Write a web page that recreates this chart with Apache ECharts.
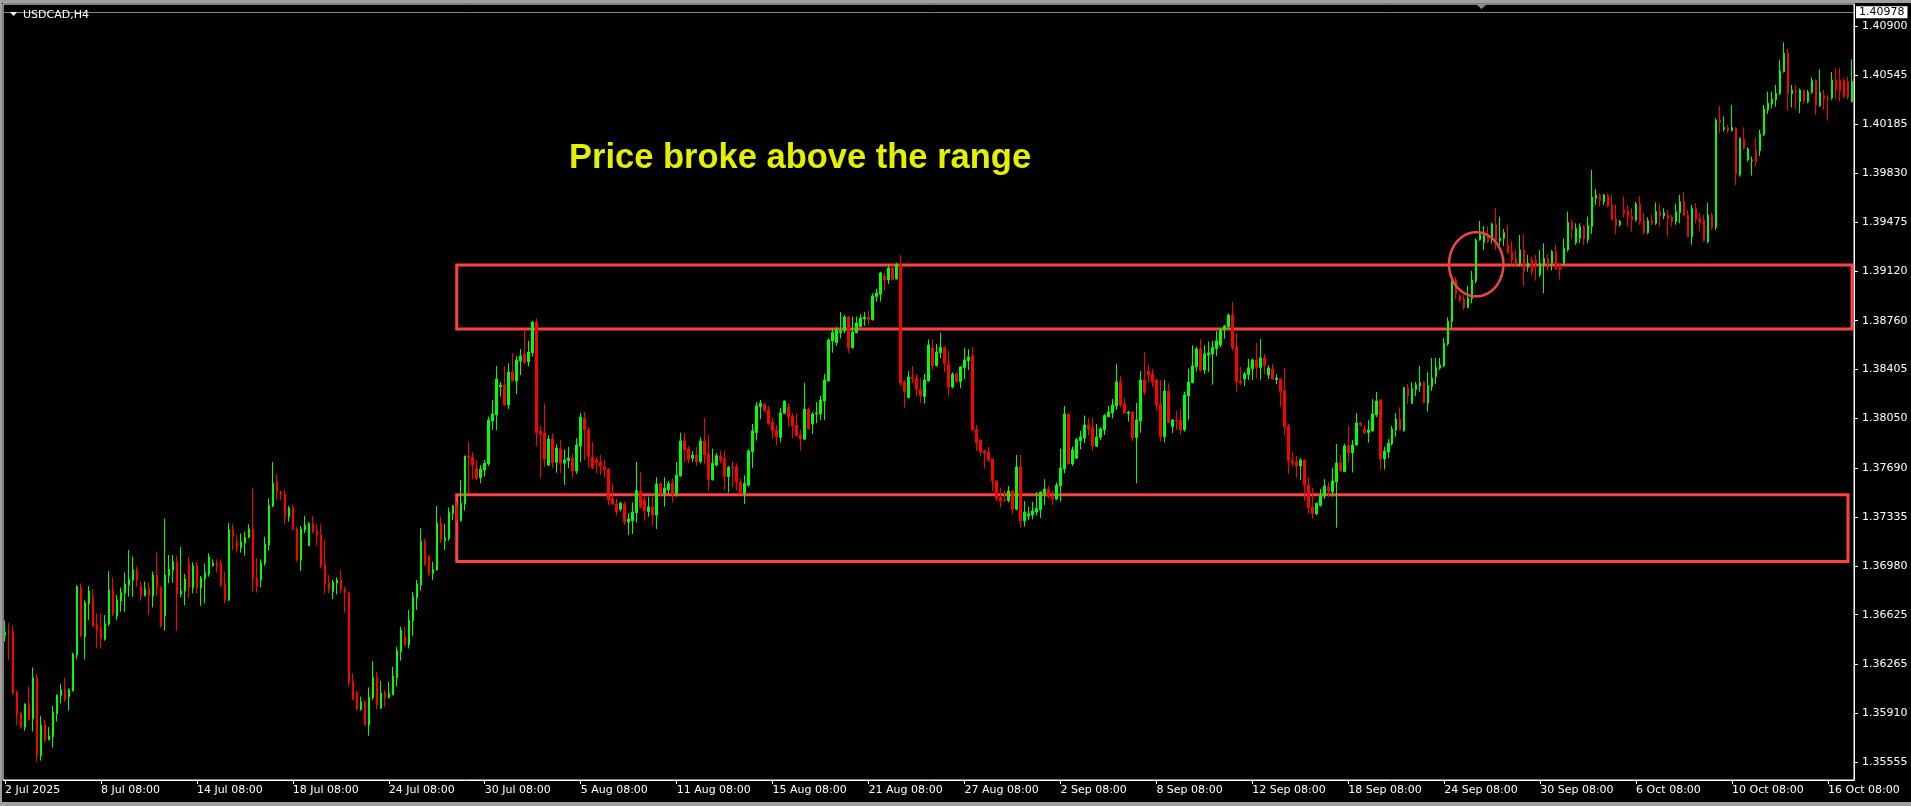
<!DOCTYPE html>
<html><head><meta charset="utf-8">
<script src="https://cdn.jsdelivr.net/npm/echarts@6/dist/echarts.min.js"></script>
<style>html,body{margin:0;padding:0;background:#000;overflow:hidden}#chart{width:1911px;height:806px}</style>
</head><body><div id="chart"></div>
<script>
const symbolLabel = 'USDCAD,H4';
const noteText = 'Price broke above the range';
const tickLabels = ['2 Jul 2025','8 Jul 08:00','14 Jul 08:00','18 Jul 08:00','24 Jul 08:00','30 Jul 08:00','5 Aug 08:00','11 Aug 08:00','15 Aug 08:00','21 Aug 08:00','27 Aug 08:00','2 Sep 08:00','8 Sep 08:00','12 Sep 08:00','18 Sep 08:00','24 Sep 08:00','30 Sep 08:00','6 Oct 08:00','10 Oct 08:00','16 Oct 08:00'];
const barsPerLabel = 24;
const priceTicks = [1.35555,1.35910,1.36265,1.36625,1.36980,1.37335,1.37690,1.38050,1.38405,1.38760,1.39120,1.39475,1.39830,1.40185,1.40545,1.40900];
const priceMin = 1.354243, priceMax = 1.410605;
const bidPrice = 1.40978;
// zones: [fromBar, toBar, topPrice, bottomPrice]
const zones = [[113, 462, 1.39165, 1.38700], [113, 461, 1.37497, 1.37011]];
// breakout ellipse: [bar, price, radiusBars, radiusPrice]
const breakout = [368, 1.39170, 6.8, 0.00233];
// candles: [open, close, low, high]
const candles = [
[1.36473,1.36497,1.36429,1.36582],[1.36502,1.36495,1.36296,1.36567],[1.36502,1.36054,1.36042,1.36543],[1.36064,1.35897,1.35820,1.36074],[1.35909,1.35808,1.35796,1.35921],
[1.35808,1.35975,1.35781,1.35982],[1.35972,1.35866,1.35856,1.36103],[1.35868,1.36168,1.35776,1.36241],[1.36168,1.35607,1.35558,1.36195],[1.35602,1.35825,1.35565,1.35890],
[1.35825,1.35716,1.35696,1.35861],[1.35716,1.35745,1.35714,1.35808],[1.35740,1.35914,1.35659,1.35962],[1.35904,1.36042,1.35848,1.36045],[1.36037,1.36079,1.35982,1.36122],
[1.36079,1.36010,1.35994,1.36166],[1.36030,1.36079,1.35928,1.36091],[1.36071,1.36339,1.36068,1.36349],[1.36332,1.36828,1.36300,1.36840],[1.36823,1.36470,1.36460,1.36852],
[1.36465,1.36712,1.36300,1.36731],[1.36707,1.36797,1.36586,1.36833],[1.36751,1.36543,1.36538,1.36809],[1.36550,1.36514,1.36380,1.36635],[1.36530,1.36453,1.36380,1.36635],
[1.36446,1.36562,1.36436,1.36622],[1.36557,1.36804,1.36543,1.36942],[1.36804,1.36630,1.36615,1.36896],[1.36615,1.36731,1.36586,1.36768],[1.36724,1.36787,1.36647,1.36823],
[1.36780,1.36848,1.36647,1.36932],[1.36840,1.36884,1.36756,1.37095],[1.36877,1.36949,1.36756,1.37046],[1.36949,1.36877,1.36828,1.36974],[1.36833,1.36763,1.36727,1.36865],
[1.36763,1.36811,1.36756,1.36865],[1.36811,1.36763,1.36622,1.36857],[1.36761,1.36913,1.36678,1.36937],[1.36913,1.36823,1.36756,1.37078],[1.36823,1.36545,1.36533,1.36833],
[1.36615,1.36913,1.36509,1.37323],[1.36908,1.36957,1.36852,1.37058],[1.36949,1.37008,1.36857,1.37058],[1.37008,1.36775,1.36509,1.37051],[1.36775,1.36797,1.36751,1.37117],
[1.36797,1.36884,1.36693,1.36920],[1.36998,1.36821,1.36744,1.37046],[1.36821,1.36981,1.36780,1.37005],[1.36981,1.36821,1.36780,1.37010],[1.36821,1.36889,1.36690,1.36906],
[1.36884,1.36930,1.36707,1.36998],[1.36920,1.37046,1.36901,1.37070],[1.36981,1.36998,1.36974,1.37027],[1.36998,1.36981,1.36930,1.37027],[1.36998,1.36840,1.36828,1.37027],
[1.36848,1.36731,1.36707,1.36937],[1.36731,1.37240,1.36724,1.37291],[1.37240,1.37196,1.37095,1.37283],[1.37153,1.37112,1.37075,1.37204],[1.37112,1.37153,1.37075,1.37216],
[1.37143,1.37187,1.37053,1.37228],[1.37187,1.37247,1.37179,1.37281],[1.37247,1.36884,1.36792,1.37543],[1.36889,1.36828,1.36785,1.37034],[1.36877,1.37003,1.36823,1.37027],
[1.36998,1.37138,1.36981,1.37191],[1.37131,1.37418,1.37090,1.37470],[1.37414,1.37579,1.37404,1.37734],[1.37588,1.37516,1.37458,1.37647],[1.37516,1.37501,1.37458,1.37525],
[1.37501,1.37337,1.37283,1.37530],[1.37337,1.37402,1.37300,1.37414],[1.37402,1.37247,1.37240,1.37421],[1.37247,1.37022,1.37010,1.37264],[1.37022,1.37247,1.36942,1.37269],
[1.37240,1.37274,1.37216,1.37342],[1.37126,1.37288,1.37126,1.37300],[1.37288,1.37228,1.37216,1.37342],[1.37233,1.37204,1.37131,1.37283],[1.37204,1.36981,1.36961,1.37281],
[1.36993,1.36852,1.36780,1.37167],[1.36852,1.36811,1.36780,1.36913],[1.36792,1.36862,1.36739,1.36877],[1.36855,1.36877,1.36773,1.36896],[1.36877,1.36809,1.36780,1.36949],
[1.36809,1.36785,1.36639,1.36828],[1.36785,1.36131,1.36107,1.36792],[1.36136,1.36012,1.36005,1.36199],[1.36056,1.35937,1.35928,1.36073],[1.35937,1.35991,1.35928,1.36030],
[1.35991,1.35824,1.35820,1.36005],[1.35824,1.36027,1.35746,1.36097],[1.36022,1.36168,1.36005,1.36288],[1.36168,1.35969,1.35937,1.36211],[1.35945,1.36056,1.35940,1.36143],
[1.36056,1.36022,1.35957,1.36079],[1.36022,1.36054,1.36017,1.36136],[1.36042,1.36180,1.36040,1.36247],[1.36168,1.36363,1.36103,1.36393],[1.36356,1.36514,1.36291,1.36538],
[1.36465,1.36405,1.36393,1.36538],[1.36405,1.36586,1.36380,1.36659],[1.36581,1.36756,1.36470,1.36792],[1.36748,1.36848,1.36659,1.36877],[1.36840,1.37155,1.36799,1.37252],
[1.37155,1.36993,1.36978,1.37177],[1.37051,1.36925,1.36901,1.37058],[1.36925,1.36954,1.36877,1.37010],[1.36949,1.37288,1.36944,1.37414],[1.37289,1.37168,1.37144,1.37337],
[1.37163,1.37182,1.37095,1.37284],[1.37177,1.37369,1.37163,1.37403],[1.37361,1.37415,1.37313,1.37422],[1.37415,1.37320,1.37300,1.37440],[1.37308,1.37434,1.37300,1.37604],
[1.37429,1.37778,1.37381,1.37780],[1.37778,1.37768,1.37507,1.37879],[1.37768,1.37712,1.37608,1.37807],[1.37688,1.37616,1.37604,1.37749],[1.37621,1.37683,1.37579,1.37712],
[1.37676,1.37725,1.37628,1.37749],[1.37722,1.38039,1.37705,1.38063],[1.38032,1.38083,1.37967,1.38185],[1.38076,1.38337,1.37967,1.38431],[1.38281,1.38293,1.38209,1.38315],
[1.38293,1.38148,1.38141,1.38431],[1.38148,1.38388,1.38119,1.38451],[1.38388,1.38323,1.38318,1.38524],[1.38323,1.38475,1.38228,1.38504],[1.38468,1.38504,1.38366,1.38555],
[1.38519,1.38456,1.38446,1.38693],[1.38461,1.38533,1.38427,1.38613],[1.38528,1.38751,1.38499,1.38755],[1.38751,1.37947,1.37846,1.38778],[1.37959,1.37938,1.37620,1.37996],
[1.37945,1.37756,1.37700,1.38160],[1.37712,1.37901,1.37705,1.37928],[1.37901,1.37729,1.37688,1.37945],[1.37732,1.37836,1.37657,1.37863],[1.37829,1.37725,1.37652,1.37894],
[1.37725,1.37749,1.37567,1.37826],[1.37744,1.37763,1.37688,1.37843],[1.37763,1.37669,1.37620,1.37797],[1.37669,1.37858,1.37647,1.37906],[1.37851,1.38061,1.37732,1.38090],
[1.38054,1.37967,1.37749,1.38097],[1.37967,1.37773,1.37695,1.37988],[1.37768,1.37693,1.37681,1.37879],[1.37749,1.37729,1.37652,1.37773],[1.37734,1.37700,1.37640,1.37785],
[1.37698,1.37676,1.37620,1.37749],[1.37683,1.37458,1.37422,1.37688],[1.37470,1.37429,1.37422,1.37579],[1.37429,1.37374,1.37345,1.37470],[1.37390,1.37434,1.37374,1.37446],
[1.37429,1.37301,1.37277,1.37446],[1.37299,1.37320,1.37204,1.37361],[1.37308,1.37369,1.37211,1.37441],[1.37366,1.37526,1.37294,1.37734],[1.37524,1.37405,1.37398,1.37662],
[1.37458,1.37378,1.37308,1.37482],[1.37374,1.37408,1.37337,1.37482],[1.37408,1.37349,1.37277,1.37482],[1.37349,1.37574,1.37248,1.37623],[1.37574,1.37507,1.37482,1.37587],
[1.37507,1.37545,1.37410,1.37623],[1.37531,1.37577,1.37500,1.37596],[1.37584,1.37507,1.37439,1.37616],[1.37507,1.37640,1.37482,1.37734],[1.37633,1.37887,1.37628,1.37947],
[1.37887,1.37821,1.37729,1.37947],[1.37829,1.37749,1.37725,1.37850],[1.37761,1.37785,1.37734,1.37812],[1.37785,1.37737,1.37705,1.37846],[1.37737,1.37887,1.37725,1.37913],
[1.37887,1.37785,1.37717,1.38054],[1.37792,1.37608,1.37526,1.37930],[1.37604,1.37725,1.37600,1.37831],[1.37712,1.37780,1.37700,1.37797],[1.37775,1.37749,1.37725,1.37817],
[1.37756,1.37628,1.37531,1.37814],[1.37628,1.37696,1.37512,1.37705],[1.37700,1.37696,1.37550,1.37742],[1.37698,1.37591,1.37526,1.37725],[1.37587,1.37507,1.37502,1.37616],
[1.37507,1.37579,1.37429,1.37637],[1.37565,1.37814,1.37555,1.37826],[1.37809,1.37960,1.37693,1.38010],[1.37947,1.38141,1.37889,1.38168],[1.38136,1.38160,1.38044,1.38185],
[1.38156,1.38105,1.38100,1.38160],[1.38112,1.38015,1.38003,1.38141],[1.38020,1.37962,1.37906,1.38059],[1.37967,1.37918,1.37858,1.38003],[1.37913,1.38090,1.37875,1.38126],
[1.38088,1.38177,1.38085,1.38180],[1.38134,1.38063,1.37991,1.38160],[1.38068,1.37996,1.37906,1.38088],[1.38003,1.37923,1.37918,1.38088],[1.37930,1.37901,1.37817,1.37967],
[1.37899,1.38119,1.37894,1.38310],[1.38119,1.37974,1.37970,1.38131],[1.38010,1.38083,1.37938,1.38095],[1.38083,1.38090,1.38015,1.38168],[1.38083,1.38185,1.38039,1.38216],
[1.38177,1.38330,1.38039,1.38373],[1.38323,1.38620,1.38318,1.38632],[1.38613,1.38676,1.38528,1.38698],[1.38601,1.38693,1.38577,1.38717],[1.38674,1.38686,1.38632,1.38824],
[1.38686,1.38787,1.38669,1.38802],[1.38787,1.38565,1.38524,1.38792],[1.38565,1.38678,1.38557,1.38790],[1.38674,1.38744,1.38669,1.38790],[1.38717,1.38780,1.38712,1.38807],
[1.38773,1.38787,1.38722,1.38824],[1.38787,1.38768,1.38729,1.38838],[1.38768,1.38940,1.38761,1.38959],[1.38935,1.38962,1.38899,1.38993],[1.38952,1.39107,1.38899,1.39117],
[1.39085,1.39056,1.38979,1.39105],[1.39056,1.39143,1.39027,1.39165],[1.39143,1.39061,1.39056,1.39165],[1.39063,1.39167,1.39061,1.39182],[1.39167,1.38310,1.38286,1.39238],
[1.38315,1.38245,1.38129,1.38330],[1.38201,1.38352,1.38199,1.38395],[1.38352,1.38340,1.38306,1.38431],[1.38344,1.38262,1.38209,1.38373],[1.38262,1.38216,1.38165,1.38342],
[1.38209,1.38330,1.38158,1.38373],[1.38323,1.38584,1.38318,1.38625],[1.38562,1.38434,1.38402,1.38625],[1.38434,1.38533,1.38427,1.38591],[1.38528,1.38567,1.38487,1.38674],
[1.38567,1.38451,1.38388,1.38572],[1.38446,1.38279,1.38209,1.38540],[1.38279,1.38373,1.38269,1.38386],[1.38373,1.38318,1.38310,1.38386],[1.38318,1.38424,1.38269,1.38431],
[1.38419,1.38475,1.38335,1.38560],[1.38470,1.38497,1.38402,1.38553],[1.38504,1.37967,1.37962,1.38569],[1.37972,1.37875,1.37814,1.38003],[1.37894,1.37809,1.37780,1.37894],
[1.37814,1.37802,1.37686,1.37826],[1.37807,1.37749,1.37734,1.37843],[1.37756,1.37596,1.37519,1.37756],[1.37596,1.37470,1.37453,1.37604],[1.37475,1.37453,1.37403,1.37548],
[1.37458,1.37453,1.37446,1.37526],[1.37453,1.37524,1.37441,1.37560],[1.37524,1.37393,1.37357,1.37531],[1.37390,1.37698,1.37386,1.37785],[1.37698,1.37306,1.37257,1.37785],
[1.37306,1.37371,1.37265,1.37451],[1.37342,1.37357,1.37313,1.37410],[1.37349,1.37378,1.37318,1.37444],[1.37371,1.37395,1.37345,1.37516],[1.37386,1.37514,1.37328,1.37521],
[1.37507,1.37538,1.37422,1.37611],[1.37538,1.37482,1.37470,1.37562],[1.37482,1.37470,1.37422,1.37526],[1.37463,1.37567,1.37460,1.37584],[1.37562,1.37691,1.37446,1.37829],
[1.37683,1.38083,1.37652,1.38141],[1.38083,1.37720,1.37717,1.38090],[1.37720,1.37821,1.37705,1.37846],[1.37761,1.37896,1.37756,1.37909],[1.37889,1.37916,1.37826,1.37960],
[1.37909,1.38003,1.37872,1.38071],[1.38003,1.37976,1.37926,1.38054],[1.37981,1.37851,1.37817,1.38054],[1.37848,1.37916,1.37843,1.38010],[1.37913,1.37974,1.37894,1.37986],
[1.37967,1.38071,1.37930,1.38083],[1.38063,1.38097,1.38060,1.38141],[1.38090,1.38148,1.38051,1.38192],[1.38141,1.38315,1.38112,1.38446],[1.38315,1.38148,1.38131,1.38359],
[1.38156,1.38088,1.38083,1.38199],[1.38088,1.38097,1.38027,1.38105],[1.38097,1.37911,1.37887,1.38099],[1.37911,1.38039,1.37579,1.38163],[1.38032,1.38330,1.37947,1.38395],
[1.38330,1.38238,1.38221,1.38533],[1.38395,1.38366,1.38310,1.38439],[1.38373,1.38315,1.38277,1.38410],[1.38330,1.38148,1.38107,1.38335],[1.38156,1.37918,1.37882,1.38330],
[1.37918,1.38250,1.37875,1.38330],[1.38250,1.38020,1.38015,1.38306],[1.37991,1.38039,1.37943,1.38044],[1.38039,1.38032,1.37967,1.38105],[1.38039,1.37967,1.37930,1.38119],
[1.37967,1.38221,1.37955,1.38245],[1.38216,1.38315,1.38039,1.38412],[1.38310,1.38431,1.38306,1.38582],[1.38427,1.38555,1.38390,1.38572],[1.38555,1.38402,1.38390,1.38628],
[1.38402,1.38519,1.38373,1.38582],[1.38511,1.38526,1.38388,1.38608],[1.38519,1.38565,1.38296,1.38613],[1.38557,1.38613,1.38504,1.38686],[1.38584,1.38693,1.38567,1.38708],
[1.38693,1.38722,1.38630,1.38729],[1.38717,1.38802,1.38700,1.38812],[1.38802,1.38565,1.38543,1.38896],[1.38569,1.38318,1.38245,1.38671],[1.38323,1.38310,1.38293,1.38424],
[1.38337,1.38373,1.38286,1.38388],[1.38369,1.38419,1.38330,1.38482],[1.38412,1.38475,1.38330,1.38485],[1.38475,1.38422,1.38340,1.38599],[1.38419,1.38490,1.38330,1.38628],
[1.38490,1.38434,1.38373,1.38519],[1.38366,1.38417,1.38337,1.38436],[1.38410,1.38337,1.38330,1.38448],[1.38332,1.38344,1.38298,1.38371],[1.38337,1.38245,1.38136,1.38342],
[1.38250,1.37991,1.37926,1.38419],[1.37996,1.37744,1.37647,1.38010],[1.37742,1.37729,1.37700,1.37807],[1.37734,1.37705,1.37618,1.37778],[1.37705,1.37749,1.37604,1.37763],
[1.37749,1.37567,1.37451,1.37751],[1.37567,1.37403,1.37361,1.37625],[1.37408,1.37359,1.37323,1.37545],[1.37359,1.37432,1.37349,1.37441],[1.37420,1.37487,1.37410,1.37538],
[1.37487,1.37560,1.37466,1.37611],[1.37553,1.37524,1.37482,1.37589],[1.37519,1.37596,1.37482,1.37691],[1.37589,1.37727,1.37257,1.37865],[1.37727,1.37669,1.37662,1.37785],
[1.37664,1.37851,1.37662,1.37865],[1.37851,1.37800,1.37729,1.37996],[1.37800,1.37858,1.37657,1.37892],[1.37858,1.38018,1.37853,1.38090],[1.38018,1.38003,1.37991,1.38025],
[1.37974,1.37947,1.37938,1.37996],[1.37947,1.37967,1.37875,1.38039],[1.37960,1.38083,1.37955,1.38192],[1.38076,1.38177,1.38059,1.38243],[1.38185,1.37756,1.37679,1.38192],
[1.37756,1.37814,1.37679,1.37846],[1.37807,1.37872,1.37763,1.37901],[1.37865,1.37974,1.37853,1.37996],[1.37967,1.38047,1.37918,1.38090],[1.38047,1.37967,1.37962,1.38131],
[1.37960,1.38274,1.37955,1.38281],[1.38274,1.38216,1.38156,1.38301],[1.38160,1.38269,1.38156,1.38313],[1.38262,1.38294,1.38214,1.38315],[1.38286,1.38311,1.38245,1.38432],
[1.38313,1.38165,1.38160,1.38320],[1.38160,1.38286,1.38100,1.38386],[1.38281,1.38344,1.38250,1.38490],[1.38354,1.38422,1.38301,1.38490],[1.38415,1.38439,1.38403,1.38490],
[1.38432,1.38596,1.38422,1.38633],[1.38591,1.38758,1.38577,1.38785],[1.38754,1.39056,1.38705,1.39080],[1.39056,1.38955,1.38916,1.39080],[1.38940,1.38911,1.38892,1.38955],
[1.38918,1.38855,1.38838,1.38947],[1.38855,1.38925,1.38850,1.39013],[1.38921,1.39056,1.38887,1.39122],[1.39049,1.39347,1.39032,1.39359],[1.39347,1.39385,1.39342,1.39485],
[1.39327,1.39378,1.39274,1.39448],[1.39376,1.39335,1.39323,1.39444],[1.39359,1.39463,1.39323,1.39473],[1.39456,1.39347,1.39274,1.39577],[1.39342,1.39359,1.39311,1.39516],
[1.39359,1.39400,1.39303,1.39427],[1.39310,1.39255,1.39245,1.39456],[1.39262,1.39201,1.39165,1.39340],[1.39213,1.39177,1.39153,1.39274],[1.39177,1.39274,1.39153,1.39383],
[1.39274,1.39117,1.39013,1.39383],[1.39148,1.39177,1.39117,1.39238],[1.39201,1.39117,1.39093,1.39225],[1.39201,1.39182,1.39051,1.39238],[1.39093,1.39177,1.39076,1.39274],
[1.39165,1.39213,1.38959,1.39322],[1.39213,1.39177,1.39124,1.39245],[1.39177,1.39262,1.39124,1.39274],[1.39262,1.39134,1.39129,1.39315],[1.39165,1.39129,1.39061,1.39177],
[1.39177,1.39286,1.39165,1.39359],[1.39274,1.39473,1.39262,1.39553],[1.39473,1.39424,1.39352,1.39492],[1.39327,1.39432,1.39311,1.39468],[1.39359,1.39444,1.39323,1.39468],
[1.39444,1.39352,1.39311,1.39456],[1.39347,1.39451,1.39323,1.39516],[1.39444,1.39657,1.39390,1.39855],[1.39650,1.39674,1.39601,1.39717],[1.39669,1.39632,1.39589,1.39686],
[1.39625,1.39674,1.39601,1.39681],[1.39669,1.39594,1.39584,1.39681],[1.39601,1.39492,1.39490,1.39674],[1.39497,1.39456,1.39390,1.39601],[1.39456,1.39480,1.39444,1.39492],
[1.39565,1.39541,1.39511,1.39662],[1.39558,1.39511,1.39444,1.39601],[1.39521,1.39492,1.39407,1.39577],[1.39492,1.39608,1.39480,1.39625],[1.39608,1.39480,1.39456,1.39666],
[1.39487,1.39400,1.39390,1.39541],[1.39400,1.39487,1.39390,1.39511],[1.39487,1.39468,1.39456,1.39528],[1.39468,1.39553,1.39456,1.39618],[1.39553,1.39521,1.39444,1.39613],
[1.39521,1.39545,1.39497,1.39577],[1.39528,1.39504,1.39371,1.39565],[1.39511,1.39480,1.39444,1.39528],[1.39480,1.39553,1.39456,1.39608],[1.39545,1.39625,1.39468,1.39674],
[1.39625,1.39528,1.39516,1.39693],[1.39528,1.39371,1.39366,1.39565],[1.39371,1.39577,1.39311,1.39601],[1.39577,1.39497,1.39468,1.39613],[1.39504,1.39473,1.39407,1.39545],
[1.39492,1.39342,1.39335,1.39528],[1.39335,1.39528,1.39323,1.39618],[1.39528,1.39439,1.39419,1.39545],[1.39439,1.40218,1.39419,1.40230],[1.40218,1.40199,1.40122,1.40320],
[1.40151,1.40163,1.40134,1.40243],[1.40163,1.40141,1.40122,1.40182],[1.40141,1.40163,1.40134,1.40327],[1.40158,1.39831,1.39746,1.40165],[1.39819,1.40085,1.39807,1.40092],
[1.40078,1.40013,1.40001,1.40165],[1.39928,1.40008,1.39916,1.40020],[1.39923,1.39928,1.39814,1.39952],[1.39996,1.39916,1.39879,1.40092],[1.39996,1.40117,1.39957,1.40146],
[1.40110,1.40298,1.40102,1.40327],[1.40291,1.40339,1.40262,1.40424],[1.40335,1.40371,1.40303,1.40424],[1.40364,1.40412,1.40315,1.40473],[1.40412,1.40574,1.40400,1.40654],
[1.40569,1.40703,1.40562,1.40782],[1.40703,1.40412,1.40286,1.40734],[1.40407,1.40436,1.40310,1.40473],[1.40431,1.40424,1.40296,1.40473],[1.40352,1.40436,1.40267,1.40448],
[1.40431,1.40352,1.40335,1.40441],[1.40352,1.40419,1.40340,1.40436],[1.40419,1.40504,1.40407,1.40528],[1.40504,1.40327,1.40255,1.40514],[1.40320,1.40419,1.40315,1.40586],
[1.40395,1.40376,1.40291,1.40436],[1.40376,1.40368,1.40214,1.40400],[1.40376,1.40509,1.40364,1.40567],[1.40509,1.40436,1.40368,1.40594],[1.40509,1.40429,1.40352,1.40594],
[1.40509,1.40388,1.40376,1.40521],[1.40497,1.40388,1.40368,1.40533],[1.40352,1.40497,1.40344,1.40659]
];
const categories = candles.map((_, i) => String(i));

const FONT = '"DejaVu Sans", Verdana, sans-serif';
const chart = echarts.init(document.getElementById('chart'), null, {renderer: 'canvas'});
const showEvery = (i) => i % barsPerLabel === 0;

chart.setOption({
  backgroundColor: '#000000',
  animation: false,
  grid: {left: 3, top: 4, right: 57, bottom: 26, show: true, borderColor: '#ffffff', borderWidth: 1, backgroundColor: 'transparent'},
  xAxis: {
    type: 'category', data: categories, boundaryGap: true,
    axisLine: {show: true, lineStyle: {color: '#ffffff', width: 1}},
    axisTick: {show: true, alignWithLabel: true, interval: showEvery, length: 4, lineStyle: {color: '#ffffff'}},
    axisLabel: {interval: showEvery, align: 'left', margin: 5, color: '#ffffff', fontFamily: FONT, fontSize: 11,
      formatter: (v, i) => tickLabels[i / barsPerLabel] || ''},
    splitLine: {show: false}
  },
  yAxis: {
    type: 'value', position: 'right', min: priceMin, max: priceMax, scale: true,
    axisLine: {show: true, lineStyle: {color: '#ffffff', width: 1}},
    axisTick: {show: true, length: 4, customValues: priceTicks, lineStyle: {color: '#ffffff'}},
    axisLabel: {customValues: priceTicks, margin: 8, color: '#ffffff', fontFamily: FONT, fontSize: 11, align: 'left',
      formatter: (v) => v.toFixed(5)},
    splitLine: {show: false}
  },
  series: [
    {
      type: 'candlestick', data: candles, barWidth: 2, z: 3,
      itemStyle: {color: '#00ff00', color0: '#ff0000', borderColor: '#00ff00', borderColor0: '#ff0000', borderColorDoji: '#00ff00', borderWidth: 1},
      markArea: {
        silent: true, z: 1,
        itemStyle: {color: 'rgba(0,0,0,0)', borderColor: '#ff4040', borderWidth: 3},
        data: zones.map(z => [{xAxis: z[0], yAxis: z[2]}, {xAxis: z[1], yAxis: z[3]}])
      },
      markLine: {
        silent: true, symbol: ['none', 'none'], z: 6,
        lineStyle: {color: '#778899', width: 1, type: 'solid'},
        label: {show: true, position: 'end', distance: 2, formatter: () => bidPrice.toFixed(5),
          backgroundColor: '#ffffff', color: '#000000', fontFamily: FONT, fontSize: 11, lineHeight: 12, padding: [0, 3, 0, 3]},
        data: [{yAxis: bidPrice}]
      }
    },
    {
      type: 'custom', data: [breakout], clip: false, z: 5, silent: true,
      renderItem: (params, api) => {
        const bar = api.value(0), price = api.value(1);
        const c = api.coord([bar, price]);
        const barStep = api.coord([bar + 1, price])[0] - c[0];
        const rx = barStep * api.value(2);
        const ry = c[1] - api.coord([bar, price + api.value(3)])[1];
        const pts = [];
        for (let k = 0; k < 120; k++) {
          const a = k / 120 * Math.PI * 2;
          pts.push([c[0] + rx * Math.cos(a), c[1] + ry * Math.sin(a)]);
        }
        return {type: 'polygon', shape: {points: pts}, style: {fill: 'none', stroke: '#ec4646', lineWidth: 2.5}};
      }
    }
  ],
  graphic: [
    {type: 'rect', shape: {x: 0, y: 0, width: 1911, height: 3}, style: {fill: '#a0a0a0'}, z: 100, silent: true},
    {type: 'rect', shape: {x: 0, y: 0, width: 2, height: 806}, style: {fill: '#a0a0a0'}, z: 100, silent: true},
    {type: 'rect', shape: {x: 0, y: 802, width: 1911, height: 4}, style: {fill: '#a0a0a0'}, z: 100, silent: true},
    {type: 'polygon', shape: {points: [[10, 12], [17, 12], [13.5, 16]]}, style: {fill: '#ffffff'}, z: 100, silent: true},
    {type: 'text', x: 23, y: 15, style: {text: symbolLabel, fill: '#ffffff', font: '11px ' + FONT, verticalAlign: 'middle'}, z: 100, silent: true},
    {type: 'polygon', shape: {points: [[1476, 4], [1487, 4], [1481.5, 9]]}, style: {fill: '#8a8a8a'}, z: 100, silent: true},
    {type: 'text', x: 569, y: 158, style: {text: noteText, fill: '#e4f000', font: 'bold 34.5px "Liberation Sans", Arial, sans-serif', verticalAlign: 'middle'}, z: 100, silent: true}
  ]
});
</script></body></html>
